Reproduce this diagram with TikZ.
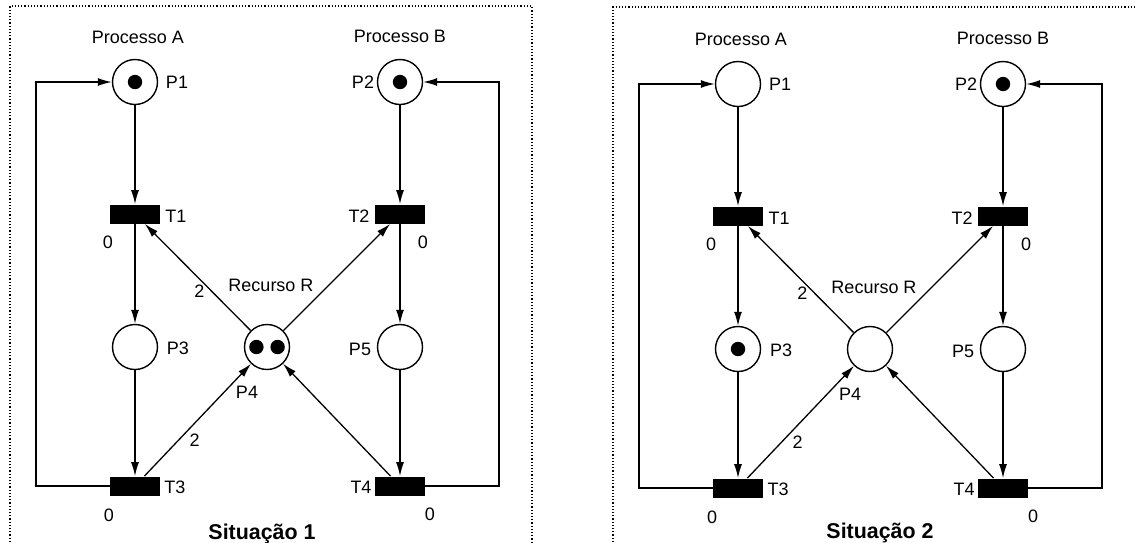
\documentclass[tikz,border=0pt]{standalone}
\usepackage{fontspec}
\setmainfont{Liberation Sans}
\usetikzlibrary{arrows.meta}
\tikzset{
    %Define styles for the net
    place/.style={
        circle,
        draw=black, line width=0.7pt,
        minimum size=22.5pt,
        inner sep=0pt,
    },
    trans/.style={
        rectangle,
        fill=black,
        minimum width=25pt,
        minimum height=9.5pt,
        inner sep=0pt,
    },
    txt/.style={
        draw = none,
        align = center,
        inner sep = 0pt,
        font = \fontsize{9}{10}\selectfont,
    },
    arc/.style={
        ->, line width=0.65pt,
        >={Latex[length=7pt,width=4pt]},
    },
    frame/.style={
        line width=0.6pt,
        dash pattern=on 0.6pt off 1pt,
    },
}

% places, transitions and arcs shared by both situations
\newcommand{\rede}{%
    \node[place] (P1) at (135,82) {};
    \node[place] (P2) at (400,82) {};
    \node[place] (P3) at (135,347) {};
    \node[place] (P4) at (267,347) {};
    \node[place] (P5) at (400,347) {};
    \node[trans] (T1) at (135,214) {};
    \node[trans] (T2) at (400,214) {};
    \node[trans] (T3) at (135,486) {};
    \node[trans] (T4) at (400,486) {};
    \coordinate (wl) at (36,82);
    \coordinate (wr) at (499,82);

    \node[txt] (pa) at (138,37) {Processo A};
    \node[txt] (pb) at (400,36) {Processo B};
    \node[txt] (rr) at (271,285) {Recurso R};
    \node[txt] (l1) at (177,82) {P1};
    \node[txt] (l2) at (363,82) {P2};
    \node[txt] (l3) at (178,348) {P3};
    \node[txt] (l4) at (247,392) {P4};
    \node[txt] (l5) at (360,349) {P5};
    \node[txt] (m1) at (176,216) {T1};
    \node[txt] (m2) at (359,216) {T2};
    \node[txt] (m3) at (175,487) {T3};
    \node[txt] (m4) at (361,487) {T4};
    \node[txt] (z1) at (108,242) {0};
    \node[txt] (z2) at (423,242) {0};
    \node[txt] (z3) at (109,515) {0};
    \node[txt] (z4) at (430,514) {0};

    \draw[arc] (P1) -- (T1);
    \draw[arc] (T1) -- (P3);
    \draw[arc] (P3) -- (T3);
    \draw[arc] (P2) -- (T2);
    \draw[arc] (T2) -- (P5);
    \draw[arc] (P5) -- (T4);
    \draw[arc] (P4) -- node[txt, pos=0.43, anchor=north east] {2} (T1);
    \draw[arc] (P4) -- (T2);
    \draw[arc] (T3) -- node[txt, pos=0.38, anchor=north west, xshift=2pt] {2} (P4);
    \draw[arc] (T4) -- (P4);
    \draw[arc] (T3.west) -| (wl) -- (P1);
    \draw[arc] (T4.east) -| (wr) -- (P2);
}

\begin{document}
\begin{tikzpicture}[x=0.5pt, y=-0.5pt]
    \useasboundingbox (0,0) rectangle (1135,542);

    % Situacao 1
    \draw[frame] (10,542) -- (10,6) -- (532,6) -- (532,542);
    \begin{scope}[name prefix=a-]
        \rede
        \fill (P1.center) circle (3.6pt);
        \fill (P2.center) circle (3.6pt);
        \fill (P4.center) ++(-5.3pt,0) circle (3.6pt);
        \fill (P4.center) ++(5.3pt,0) circle (3.6pt);
        \node[txt, font=\fontsize{10.7}{12}\selectfont\bfseries] (sit) at (262,534) {Situação 1};
    \end{scope}

    % Situacao 2
    \draw[frame] (613,542) -- (613,7) -- (1135,7);
    \begin{scope}[shift={(603,2)}, name prefix=b-]
        \rede
        \fill (P2.center) circle (3.6pt);
        \fill (P3.center) circle (3.6pt);
        \node[txt, font=\fontsize{10.7}{12}\selectfont\bfseries] (sit) at (277,531) {Situação 2};
    \end{scope}
\end{tikzpicture}
\end{document}
